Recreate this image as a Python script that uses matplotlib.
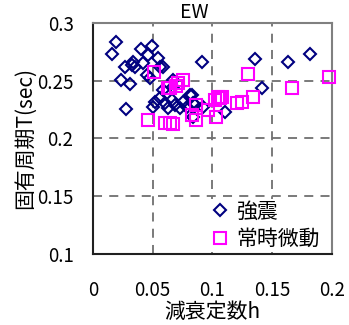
import matplotlib
matplotlib.use("Agg")
import matplotlib.pyplot as plt
from matplotlib.lines import Line2D

plt.rcParams['font.family'] = ['Noto Sans CJK JP', 'DejaVu Sans']

# strong-motion records: damping h vs natural period T
strong_h = [0.0195, 0.0159, 0.0404, 0.0496, 0.0544, 0.0460, 0.0335, 0.0329,
            0.0349, 0.0265, 0.0418, 0.0586, 0.0237, 0.0307, 0.0474, 0.0450,
            0.0560, 0.0670, 0.0910, 0.1360, 0.1634, 0.1816, 0.1417, 0.0276,
            0.0519, 0.0561, 0.0505, 0.0603, 0.0659, 0.0686, 0.0728, 0.0630,
            0.0784, 0.0589, 0.0672, 0.0838, 0.0838, 0.0756, 0.0826, 0.0854,
            0.0923, 0.1105, 0.0810]
strong_T = [0.2838, 0.2729, 0.2775, 0.2801, 0.2694, 0.2723, 0.2665, 0.2636,
            0.2622, 0.2622, 0.2651, 0.2622, 0.2506, 0.2469, 0.2521, 0.2550,
            0.2620, 0.2506, 0.2665, 0.2686, 0.2660, 0.2729, 0.2434, 0.2253,
            0.2319, 0.2348, 0.2275, 0.2305, 0.2333, 0.2290, 0.2261, 0.2261,
            0.2275, 0.2420, 0.2449, 0.2305, 0.2189, 0.2319, 0.2377, 0.2290,
            0.2275, 0.2232, 0.2377]

# microtremor records
micro_h = [0.0510, 0.0756, 0.0714, 0.0695, 0.0644, 0.1300, 0.1977, 0.1663,
           0.1341, 0.1244, 0.1049, 0.1077, 0.1063, 0.1020, 0.0862, 0.0826,
           0.0862, 0.1029, 0.0457, 0.0603, 0.0667, 0.0644, 0.0965, 0.1202,
           0.0630]
micro_T = [0.2573, 0.2506, 0.2478, 0.2455, 0.2435, 0.2558, 0.2535, 0.2435,
           0.2362, 0.2319, 0.2362, 0.2362, 0.2348, 0.2333, 0.2290, 0.2203,
           0.2160, 0.2184, 0.2160, 0.2137, 0.2125, 0.2132, 0.2247, 0.2305,
           0.2434]

xticks = [0, 0.05, 0.1, 0.15, 0.2]
xticklabels = ['0', '0.05', '0.1', '0.15', '0.2']
yticks = [0.1, 0.15, 0.2, 0.25, 0.3]
yticklabels = ['0.1', '0.15', '0.2', '0.25', '0.3']

NAVY = '#000080'
MAGENTA = '#FF00FF'

fig = plt.figure(figsize=(3.49, 3.25), dpi=100)
ax = fig.add_axes([0.2665, 0.2185, 0.6845, 0.7108])

ax.plot(strong_h, strong_T, linestyle='none', marker='D', markersize=6.2,
        markerfacecolor='none', markeredgecolor=NAVY, markeredgewidth=1.5,
        clip_on=False, zorder=3)
ax.plot(micro_h, micro_T, linestyle='none', marker='s', markersize=8.5,
        markerfacecolor='none', markeredgecolor=MAGENTA, markeredgewidth=1.5,
        clip_on=False, zorder=4)

ax.set_xlim(0, 0.2)
ax.set_ylim(0.1, 0.3)
ax.set_xticks(xticks)
ax.set_xticklabels(xticklabels)
ax.set_yticks(yticks)
ax.set_yticklabels(yticklabels)
ax.tick_params(axis='both', length=0, labelsize=13.5)
ax.tick_params(axis='x', pad=19)
ax.tick_params(axis='y', pad=14)

ax.grid(True, linestyle=(0, (5, 4)), color='#707070', linewidth=1.3)
ax.set_axisbelow(True)

for side in ['top', 'right']:
    ax.spines[side].set_color('#808080')
    ax.spines[side].set_linewidth(1.5)
for side in ['left', 'bottom']:
    ax.spines[side].set_color('#202020')
    ax.spines[side].set_linewidth(1.5)

ax.set_xlabel('減衰定数h', fontsize=15, labelpad=0)
ax.set_ylabel('固有周期T(sec)', fontsize=15, labelpad=1)

fig.text(194 / 349, 1 - 13 / 325, 'EW', fontsize=14, ha='center', va='center')

handles = [
    Line2D([], [], linestyle='none', marker='D', markersize=6.2,
           markerfacecolor='none', markeredgecolor=NAVY, markeredgewidth=1.5),
    Line2D([], [], linestyle='none', marker='s', markersize=8.5,
           markerfacecolor='none', markeredgecolor=MAGENTA, markeredgewidth=1.5),
]
leg = ax.legend(handles, ['強震', '常時微動'], loc='lower right',
                bbox_to_anchor=(1.0 - 8 / 239, 0.0), fontsize=15, frameon=True,
                fancybox=False, borderpad=0.1, handletextpad=0.2,
                handlelength=1.2, labelspacing=0.25, borderaxespad=0.1)
leg.get_frame().set_facecolor('white')
leg.get_frame().set_edgecolor('none')
leg.get_frame().set_alpha(1.0)

fig.savefig('out.png', dpi=100)
